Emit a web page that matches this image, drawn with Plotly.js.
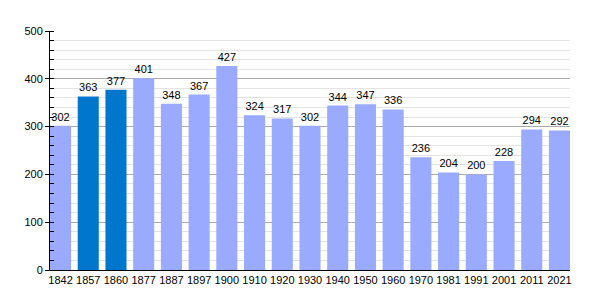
<!DOCTYPE html>
<html><head><meta charset="utf-8">
<script src="https://cdn.plot.ly/plotly-3.0.1.min.js"></script>
<style>body{margin:0;background:#fff}#c{width:600px;height:300px}</style>
</head><body><div id="c"></div>
<script>
const years = ["1842","1857","1860","1877","1887","1897","1900","1910","1920","1930","1940","1950","1960","1970","1981","1991","2001","2011","2021"];
const population = [302,363,377,401,348,367,427,324,317,302,344,347,336,236,204,200,228,294,292];
const highlighted = ["1857","1860"];
const lightColor = "#99aaff";
const darkColor = "#0077cc";
const colors = years.map(y => highlighted.includes(y) ? darkColor : lightColor);
const labels = population.map(v => String(v));

Plotly.newPlot("c", [{
  type: "bar",
  x: years,
  y: population,
  marker: {color: colors},
  text: labels,
  textposition: "outside",
  cliponaxis: false,
  textfont: {family: "Liberation Sans, Arial, sans-serif", size: 11, color: "#000"},
  hoverinfo: "none"
}], {
  width: 600, height: 300,
  margin: {l: 50, r: 30, t: 31, b: 30},
  paper_bgcolor: "#fff", plot_bgcolor: "#fff",
  bargap: 0.24,
  showlegend: false,
  font: {family: "Liberation Sans, Arial, sans-serif", size: 11, color: "#000"},
  xaxis: {
    type: "category",
    range: [-0.38, 18.38],
    showline: true, linecolor: "#000", linewidth: 1,
    ticks: "", showgrid: false, zeroline: false,
    tickfont: {size: 11, color: "#000"}
  },
  yaxis: {
    range: [0, 500],
    dtick: 100,
    showline: true, linecolor: "#000", linewidth: 1,
    ticks: "outside", ticklen: 4, tickcolor: "#000",
    showgrid: true, gridcolor: "#aaaaaa", gridwidth: 1,
    zeroline: false,
    tickfont: {size: 11, color: "#000"},
    minor: {dtick: 20, showgrid: true, gridcolor: "#e3e3e3", ticks: "inside", ticklen: 4, tickcolor: "#000"}
  }
}, {staticPlot: true});
</script></body></html>
